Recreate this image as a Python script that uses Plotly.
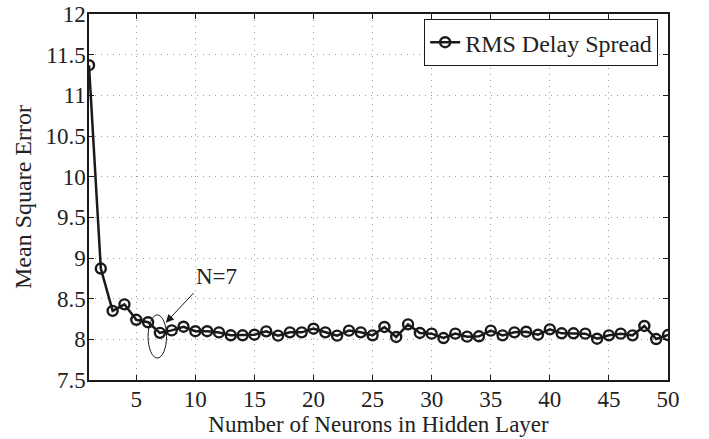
import plotly.graph_objects as go

neurons = list(range(1, 51))
mse = [11.37, 8.87, 8.35, 8.43, 8.24, 8.21, 8.08, 8.11, 8.155, 8.10,
       8.10, 8.085, 8.05, 8.05, 8.057, 8.098, 8.045, 8.086, 8.086, 8.131,
       8.086, 8.045, 8.107, 8.086, 8.049, 8.152, 8.029, 8.184, 8.078, 8.07,
       8.016, 8.07, 8.033, 8.037, 8.107, 8.049, 8.086, 8.094, 8.057, 8.123,
       8.074, 8.074, 8.07, 8.008, 8.049, 8.07, 8.049, 8.164, 8.004, 8.053]
xticks = [5, 10, 15, 20, 25, 30, 35, 40, 45, 50]
yticks = [7.5, 8, 8.5, 9, 9.5, 10, 10.5, 11, 11.5, 12]
ytick_text = ["7.5", "8", "8.5", "9", "9.5", "10", "10.5", "11", "11.5", "12"]
series_name = "RMS Delay Spread"

font_family = "Liberation Serif, Times New Roman, serif"
ink = "#1a1a1a"
txt = "#222222"

fig = go.Figure()
fig.add_trace(go.Scatter(
    x=neurons, y=mse, mode="lines+markers", name=series_name,
    line=dict(color=ink, width=2.5),
    marker=dict(symbol="circle-open", size=10, color=ink,
                line=dict(width=2.4, color=ink)),
))

axis_common = dict(
    automargin=False,
    showline=True, linecolor=ink, linewidth=1.5, mirror="ticks",
    ticks="inside", ticklen=5, tickcolor=ink, tickwidth=1,
    showgrid=True, gridcolor="#9a9a9a", griddash="1px,5px", gridwidth=1,
    zeroline=False, ticklabeloverflow="allow",
    tickfont=dict(family=font_family, size=23, color=txt),
)

fig.update_xaxes(range=[1, 50], tickvals=xticks, ticklabelstandoff=-2,
                 title=dict(text="Number of Neurons in Hidden Layer",
                            font=dict(family=font_family, size=23, color=txt),
                            standoff=0),
                 **axis_common)
fig.update_yaxes(range=[7.5, 12], tickvals=yticks, ticktext=ytick_text,
                 ticklabelstandoff=-3,
                 title=dict(text="Mean Square Error",
                            font=dict(family=font_family, size=24, color=txt)),
                 **axis_common)

fig.add_shape(type="circle", xref="x", yref="y",
              x0=6.0, x1=7.56, y0=7.77, y1=8.30,
              line=dict(color=ink, width=1))

fig.add_annotation(x=7.5, y=8.205, ax=9.96, ay=8.586, axref="x", ayref="y",
                   xref="x", yref="y", text="", showarrow=True,
                   arrowhead=2, arrowsize=1.6, arrowwidth=1, arrowcolor=ink)
fig.add_annotation(x=11.8, y=8.77, xref="x", yref="y", text="N=7",
                   showarrow=False,
                   font=dict(family=font_family, size=23, color=txt))

fig.update_layout(
    template="none",
    width=709, height=439,
    margin=dict(l=89, r=41, t=14, b=59),
    paper_bgcolor="white", plot_bgcolor="white",
    showlegend=True,
    legend=dict(x=0.983, y=0.986, xanchor="right", yanchor="top",
                bgcolor="white", bordercolor=ink, borderwidth=1,
                font=dict(family=font_family, size=24, color=txt),
                tracegroupgap=0, itemwidth=30),
)

fig.write_html("out.html",
               config={"displayModeBar": False},
               post_script="document.body.style.margin='0';document.body.style.overflow='hidden';")
